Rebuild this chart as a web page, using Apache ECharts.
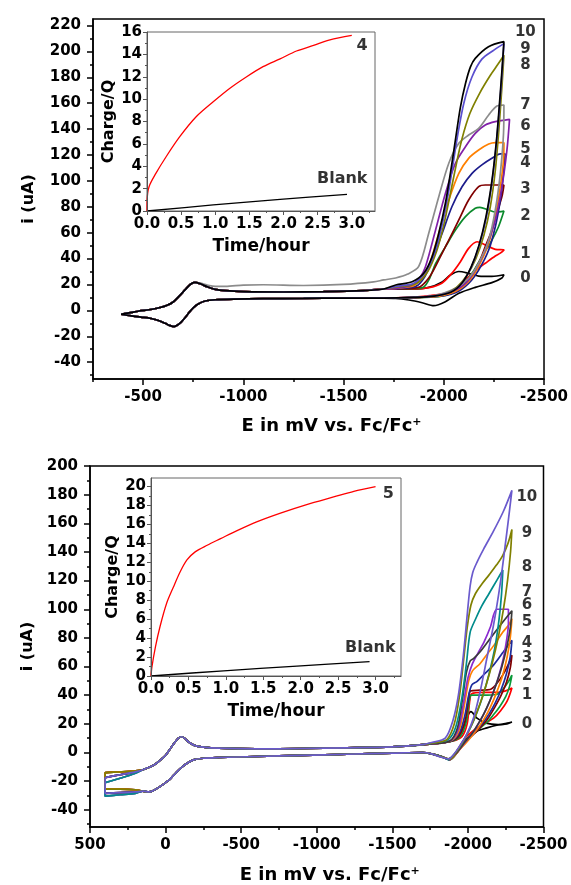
<!DOCTYPE html>
<html><head><meta charset="utf-8">
<script src="https://cdn.jsdelivr.net/npm/echarts@6/dist/echarts.min.js"></script>
<style>html,body{margin:0;padding:0;background:#fff}#c{width:571px;height:885px}</style>
</head><body><div id="c"></div>
<script>
const FONT = 'DejaVu Sans';

// ---------- TOP PANEL (compound 4) ----------
const topXTicks = [-500,-1000,-1500,-2000,-2500];
const topXMinor = [-250,-750,-1250,-1750,-2250];
const topYTicks = [-40,-20,0,20,40,60,80,100,120,140,160,180,200,220];
const topYMinor = [-50,-30,-10,10,30,50,70,90,110,130,150,170,190,210];
const topColors = ['#000000','#ff0000','#0b8a2c','#800000','#1c1c8c','#ff8000','#8020a8','#8c8c8c','#808000','#5a4fcf','#000000'];
const topLabelText = ['0','1','2','3','4','5','6','7','8','9','10'];
const topLabelV = [24.6,43.2,72.9,93.7,113.8,124.6,142.4,158.6,189.5,201.6,214.7];
const topLabelE = -2407;

const topUp = [[-390,-3],[-430,-2],[-480,-0.5],[-530,0.5],[-580,2],[-620,4],[-650,6.5],[-680,11],[-710,16],[-735,20],[-758,21.6],[-785,20.5],[-820,18.2],[-860,16.2],[-910,15.2],[-1000,14.5],[-1200,14.2],[-1400,14.5],[-1600,15.3],[-1700,16.5]];
const topUpGray = [[-390,-3],[-430,-2],[-480,-0.5],[-530,0.5],[-580,2],[-620,4],[-650,6.5],[-680,11],[-710,16],[-735,20],[-758,21.6],[-785,21],[-820,19.5],[-860,18.5],[-910,18.5],[-1000,19.5],[-1100,19.8],[-1300,19.2],[-1500,20],[-1650,22],[-1700,23.5]];
const topLow = [[-1700,9.5],[-1500,9.5],[-1300,9.2],[-1100,9],[-950,8.7],[-860,8.2],[-810,7.2],[-775,5],[-750,2],[-730,-1.5],[-710,-5.5],[-690,-9],[-670,-11.5],[-655,-12.5],[-635,-11.8],[-610,-10],[-580,-8],[-540,-6.3],[-490,-5.2],[-440,-4.2],[-390,-3]];

const topFwd = [
 [[-1760,16.8],[-1842,16.6],[-1925,17.8],[-1992,22],[-2033,27.3],[-2075,30],[-2124,28.6],[-2174,26.5],[-2240,26.2],[-2300,27.5]],
 [[-1760,16.5],[-1850,16.5],[-1925,17.5],[-1990,21],[-2040,28.6],[-2083,37.6],[-2124,47.9],[-2166,53],[-2207,50.5],[-2257,47.1],[-2300,46.6]],
 [[-1760,16.5],[-1860,17],[-1900,18],[-1930,25],[-1959,36],[-2008,49],[-2058,62],[-2108,72.4],[-2157,78.8],[-2180,79.6],[-2224,77.5],[-2257,76],[-2300,76.7]],
 [[-1760,16.5],[-1870,17.5],[-1925,25],[-1975,39],[-2025,54.3],[-2075,69.8],[-2124,85.2],[-2174,95.5],[-2207,96.8],[-2300,96.8]],
 [[-1760,16.8],[-1860,18.5],[-1905,26],[-1942,39],[-1992,59.6],[-2041,80.2],[-2091,95.5],[-2141,105.8],[-2190,112.3],[-2240,117.4],[-2282,120.8],[-2306,120.8]],
 [[-1760,17],[-1850,19],[-1890,25],[-1925,33.9],[-1975,59.6],[-2025,85.2],[-2075,105.8],[-2124,117.4],[-2174,123.8],[-2224,128.4],[-2257,129.5],[-2300,129.5]],
 [[-1760,17],[-1840,19.5],[-1880,25],[-1909,33.9],[-1959,62.1],[-2008,90.3],[-2058,113.6],[-2108,126.4],[-2157,136.7],[-2207,143.1],[-2257,145.7],[-2328,147.5]],
 [[-1760,25],[-1820,28],[-1875,33.9],[-1925,59.6],[-1975,87.8],[-2025,113.6],[-2075,129],[-2124,135.4],[-2174,140.6],[-2224,150.9],[-2265,157.8],[-2300,158.6]],
 [[-1760,18],[-1860,20.5],[-1920,30],[-1965,46],[-2000,66],[-2030,88],[-2060,111],[-2090,132],[-2130,152],[-2180,168],[-2230,181],[-2270,190],[-2300,197]],
 [[-1760,18.5],[-1850,21],[-1910,30],[-1955,45],[-1990,65],[-2020,88],[-2044,111],[-2070,136],[-2100,160],[-2140,180],[-2190,194],[-2250,201],[-2300,206]],
 [[-1760,19.6],[-1842,22.1],[-1900,28.6],[-1942,41.5],[-1975,59.5],[-2008,82.7],[-2033,106],[-2058,131.6],[-2083,157],[-2108,175],[-2133,188],[-2157,194.6],[-2223,203.6],[-2300,207.5]]
];
const topRev = [
 [[-2290,25],[-2240,21.4],[-2157,17.8],[-2075,13.2],[-2008,6.7],[-1950,3.6],[-1892,5.9],[-1826,8],[-1760,9.3]],
 [[-2280,44],[-2257,42],[-2207,36.4],[-2157,30.7],[-2108,23.5],[-2058,16.3],[-2008,13.2],[-1930,11.5],[-1820,10]],
 [[-2273,64.6],[-2240,54.3],[-2190,41.5],[-2141,28.6],[-2091,18.3],[-2041,13.2],[-1975,10.6],[-1850,9.8]],
 [[-2290,87.8],[-2265,75],[-2240,62.1],[-2207,49.2],[-2174,36.4],[-2124,23.5],[-2075,15.8],[-2008,11.9],[-1900,10.2]],
 [[-2298,105.8],[-2282,85.2],[-2257,64.6],[-2224,46.6],[-2174,31.2],[-2124,20.9],[-2058,13.7],[-1950,10.5]],
 [[-2298,116.1],[-2282,95.5],[-2257,72.4],[-2224,51.8],[-2174,33.9],[-2124,22.3],[-2058,14.6],[-1950,10.5]],
 [[-2315,123.8],[-2290,95.5],[-2257,69.8],[-2207,46.6],[-2157,31.2],[-2108,20.9],[-2041,14.6],[-1950,11]],
 [[-2298,136.7],[-2282,105.8],[-2257,77.5],[-2224,54.3],[-2174,36.4],[-2124,24.8],[-2058,17.1],[-1950,11.5]],
 [[-2290,172.6],[-2275,140],[-2257,108],[-2232,80],[-2200,58],[-2160,40],[-2115,27],[-2065,18],[-2010,13],[-1930,10.5],[-1850,10]],
 [[-2290,182],[-2277,155],[-2260,125],[-2238,96],[-2207,68],[-2170,47],[-2130,31],[-2085,20],[-2030,14],[-1950,11],[-1850,10]],
 [[-2290,185],[-2278,160],[-2262,130],[-2240,100],[-2210,72],[-2175,50],[-2135,33],[-2090,21],[-2035,14],[-1950,11],[-1850,10]]
];

// top inset
const insetTopTime = [0,0.002,0.03,0.13,0.28,0.48,0.72,0.97,1.21,1.46,1.70,1.95,2.19,2.44,2.68,3.0];
const insetTopQ    = [0,0.98,2.17,3.36,4.85,6.64,8.42,9.76,10.95,12.0,12.9,13.6,14.3,14.8,15.3,15.7];
const blankTopTime = [0,0.97,1.95,2.93];
const blankTopQ    = [0,0.54,1.04,1.49];
const insetXTicks = [0,0.5,1.0,1.5,2.0,2.5,3.0];
const insetXMinor = [0.25,0.75,1.25,1.75,2.25,2.75,3.25];
const insetTopYTicks = [0,2,4,6,8,10,12,14,16];
const insetTopYMinor = [1,3,5,7,9,11,13,15];

// ---------- BOTTOM PANEL (compound 5) ----------
const botXTicks = [500,0,-500,-1000,-1500,-2000,-2500];
const botXMinor = [250,-250,-750,-1250,-1750,-2250];
const botYTicks = [-40,-20,0,20,40,60,80,100,120,140,160,180,200];
const botYMinor = [-50,-30,-10,10,30,50,70,90,110,130,150,170,190];
const botColors = ['#000000','#ff0000','#0a9a3a','#800000','#1c2c9c','#ff8000','#8a2ad0','#3a3a3a','#008b8b','#808000','#6a5acd'];
const botLabelText = ['0','1','2','3','4','5','6','7','8','9','10'];
const botLabelV = [20.1,40.3,53,65.7,76.7,91.1,102.6,112.3,129.6,153.4,178.3];
const botLabelE = -2390;
const botVariant = [0,1,2,0,1,0,2,1,2,0,1];

const botUpLeft = [
 [[400,-14],[300,-13.5],[200,-12.8]],
 [[400,-17.5],[300,-15.5],[200,-13.5]],
 [[400,-21],[300,-18],[200,-14.5]]
];
const botLowLeft = [
 [[200,-26],[300,-25.5],[400,-25.5]],
 [[200,-27.5],[300,-28],[400,-28.5]],
 [[200,-28.5],[300,-29.5],[400,-30.5]]
];
const botUpMid = [[150,-12],[100,-10],[60,-7.5],[20,-4],[0,-2],[-30,2.5],[-60,7],[-85,10],[-105,11],[-125,10],[-150,7.5],[-190,5],[-250,3.8],[-350,3],[-600,2.5],[-900,2.8],[-1200,3.3],[-1500,4],[-1650,5],[-1700,5.5]];
const botLowMid = [[-1700,0],[-1500,-0.5],[-1200,-1.2],[-900,-2],[-600,-2.8],[-350,-3.5],[-250,-4],[-190,-5],[-150,-7],[-110,-10],[-70,-14],[-30,-18.5],[0,-21],[40,-24],[80,-26.5],[110,-27.5],[150,-27]];

const botFwd = [
 [[-1760,6],[-1850,7],[-1920,10],[-1970,18],[-2000,26],[-2020,28.5],[-2060,24],[-2120,20.5],[-2200,19.5],[-2260,20.5],[-2291,21.3]],
 [[-1760,6],[-1900,8],[-1960,11],[-1995,20],[-2012,36],[-2025,41],[-2100,42],[-2200,42],[-2250,43],[-2291,45]],
 [[-1760,6],[-1900,8],[-1955,12],[-1990,22],[-2010,37],[-2022,40],[-2100,40],[-2190,40.5],[-2230,44],[-2265,49],[-2291,54]],
 [[-1760,6],[-1895,8],[-1950,13],[-1985,24],[-2005,38],[-2018,43],[-2080,43.5],[-2147,44],[-2190,48],[-2230,54],[-2265,61],[-2291,68]],
 [[-1760,6],[-1890,8],[-1945,14],[-1980,26],[-2005,40],[-2026,47.2],[-2059,49.5],[-2103,54.1],[-2169,61],[-2235,70.3],[-2291,78.3]],
 [[-1760,6],[-1885,8],[-1940,15],[-1975,32],[-2005,50],[-2030,57],[-2080,62],[-2130,69],[-2180,76],[-2230,84],[-2270,89],[-2291,93.4]],
 [[-1760,6],[-1880,8],[-1935,16],[-1970,34],[-2000,52],[-2030,62],[-2070,70],[-2110,78],[-2150,88],[-2191,100],[-2268,100]],
 [[-1760,6],[-1880,8],[-1930,17],[-1962,36],[-1990,56],[-2015,64],[-2037,65.6],[-2081,70.3],[-2147,79.5],[-2213,88.7],[-2260,95],[-2291,99]],
 [[-1760,6.5],[-1870,9],[-1920,18],[-1960,38],[-1990,62],[-2015,84],[-2050,93],[-2090,102],[-2140,111],[-2190,120],[-2231,127.5]],
 [[-1760,6.5],[-1860,9],[-1910,20],[-1945,40],[-1972,65],[-1995,87],[-2020,103],[-2050,111],[-2095,118],[-2140,124],[-2190,131],[-2229,137.3],[-2265,146],[-2291,155.7]],
 [[-1760,7],[-1850,10],[-1900,22],[-1937,40],[-1970,68],[-1997,98],[-2015,116.4],[-2032,125.7],[-2059,132.6],[-2103,141.8],[-2169,154.5],[-2235,168.4],[-2291,183]]
];
const botRev = [
 [[-2258,19.9],[-2191,19],[-2125,17.2],[-2060,14.9],[-2000,10.2],[-1950,4],[-1905,-2],[-1870,-4.5],[-1820,-3],[-1760,-1]],
 [[-2260,36],[-2215,29],[-2170,24],[-2100,19.5],[-2040,15.5],[-1990,11],[-1950,5],[-1915,-1],[-1880,-5],[-1830,-3],[-1760,-1]],
 [[-2275,46],[-2250,39],[-2210,32],[-2170,26.5],[-2130,21.5],[-2080,17],[-2030,12.5],[-1985,8],[-1945,2.5],[-1910,-2.5],[-1880,-5],[-1830,-3],[-1760,-1]],
 [[-2280,59],[-2255,49],[-2220,40],[-2180,32],[-2140,25],[-2100,19.5],[-2060,15],[-2020,11],[-1980,6.5],[-1940,1.5],[-1905,-3],[-1878,-5],[-1830,-3],[-1760,-1]],
 [[-2280,67],[-2255,55],[-2220,44],[-2180,34.5],[-2140,27],[-2100,21],[-2060,16],[-2020,11.5],[-1980,7],[-1940,2],[-1905,-2.5],[-1875,-5],[-1830,-3],[-1760,-1]],
 [[-2280,80],[-2260,67],[-2230,54],[-2190,42],[-2150,32],[-2110,24],[-2070,17.5],[-2030,12],[-1990,7],[-1945,2],[-1910,-2.5],[-1880,-5],[-1830,-3],[-1760,-1]],
 [[-2268,90],[-2258,80],[-2235,66],[-2200,52],[-2160,40],[-2120,30],[-2080,22],[-2040,15],[-1995,9],[-1950,3],[-1910,-2],[-1880,-5],[-1830,-3],[-1760,-1]],
 [[-2282,88],[-2258,74],[-2225,60],[-2185,47],[-2145,36],[-2105,27],[-2065,19.5],[-2025,13],[-1985,8],[-1945,2.5],[-1905,-2.5],[-1875,-5],[-1830,-3],[-1760,-1]],
 [[-2222,110],[-2205,92],[-2178,73],[-2140,55],[-2100,40],[-2060,28],[-2020,18],[-1980,10],[-1940,3],[-1900,-2.5],[-1870,-5],[-1830,-3],[-1760,-1]],
 [[-2282,140],[-2262,120],[-2235,100],[-2200,80],[-2160,62],[-2120,47],[-2080,34],[-2040,23],[-2000,14],[-1960,6.5],[-1920,0],[-1885,-4.5],[-1840,-3.5],[-1760,-1]],
 [[-2268,162.6],[-2246,144],[-2224,125.7],[-2202,109.5],[-2169,88.7],[-2125,65.6],[-2081,42.6],[-2037,24],[-1992,12.6],[-1948,5],[-1905,-1.5],[-1875,-4.5],[-1830,-3.5],[-1760,-1]]
];

// bottom inset
const insetBotTime = [0,0.013,0.06,0.12,0.21,0.30,0.39,0.48,0.59,0.75,0.93,1.15,1.42,1.73,2.08,2.44,2.71,3.0];
const insetBotQ    = [0,0.99,3.1,5.2,7.7,9.4,11.0,12.25,13.1,13.8,14.5,15.35,16.3,17.2,18.1,18.9,19.5,20.0];
const blankBotTime = [0,0.97,1.95,2.92];
const blankBotQ    = [0,0.55,1.05,1.51];
const insetBotYTicks = [0,2,4,6,8,10,12,14,16,18,20];
const insetBotYMinor = [1,3,5,7,9,11,13,15,17,19];

// ---------- helpers ----------
function joinParts(parts){ const out=[]; parts.forEach(p=>p.forEach(q=>out.push(q))); out.push(parts[0][0]); return out; }
function zip(a,b){ return a.map((v,i)=>[v,b[i]]); }
function axisPair(o){
  const base = {type:'value', gridIndex:o.grid, position:o.pos, min:o.min, max:o.max, inverse:!!o.inverse, splitLine:{show:false}, z:5};
  const major = Object.assign({}, base, {
    axisLine:{show:true, onZero:false, lineStyle:{color:o.lc, width:o.lw}},
    axisTick:{show:true, inside:false, length:o.len, customValues:o.ticks, lineStyle:{color:o.lc, width:o.lw}},
    axisLabel:{show:true, customValues:o.ticks, margin:o.margin, formatter:o.fmt, color:'#000', fontFamily:FONT, fontWeight:'bold', fontSize:o.fs},
    name:o.name, nameLocation:'middle', nameGap:o.gap, nameTextStyle:o.nameStyle
  });
  const minor = Object.assign({}, base, {
    axisLine:{show:false, onZero:false}, axisLabel:{show:false},
    axisTick:{show:true, inside:false, length:o.mlen, customValues:o.minor, lineStyle:{color:o.lc, width:o.lw}}
  });
  return [major, minor];
}
const bold = (fs)=>({fontFamily:FONT, fontWeight:'bold', fontSize:fs, color:'#000'});
const eName = '{t|E in mV vs. Fc/Fc}{s|+}';
const eNameStyle = {padding:[0,0,0,26], rich:{t:bold(18), s:Object.assign(bold(11),{verticalAlign:'top'})}};
const intFmt = v=>String(v);
const decFmt = v=>v.toFixed(1);

const xAxis = [].concat(
  axisPair({grid:0,pos:'bottom',min:-2500,max:-250,inverse:true,ticks:topXTicks,minor:topXMinor,len:6,mlen:3,lc:'#000',lw:1.5,margin:11,fs:15,fmt:intFmt,name:eName,gap:38,nameStyle:eNameStyle}),
  axisPair({grid:1,pos:'bottom',min:0,max:3.34,ticks:insetXTicks,minor:insetXMinor,len:4,mlen:2,lc:'#555',lw:1,margin:6,fs:15,fmt:decFmt,name:'Time/hour',gap:27,nameStyle:bold(17)}),
  axisPair({grid:2,pos:'bottom',min:-2500,max:500,inverse:true,ticks:botXTicks,minor:botXMinor,len:6,mlen:3,lc:'#000',lw:1.5,margin:11,fs:15,fmt:intFmt,name:eName,gap:39,nameStyle:eNameStyle}),
  axisPair({grid:3,pos:'bottom',min:0,max:3.34,ticks:insetXTicks,minor:insetXMinor,len:4,mlen:2,lc:'#555',lw:1,margin:6,fs:15,fmt:decFmt,name:'Time/hour',gap:27,nameStyle:bold(17)})
);
const yAxis = [].concat(
  axisPair({grid:0,pos:'left',min:-53,max:225,ticks:topYTicks,minor:topYMinor,len:6,mlen:3,lc:'#000',lw:1.5,margin:12,fs:15,fmt:intFmt,name:'i (uA)',gap:56,nameStyle:bold(16)}),
  axisPair({grid:1,pos:'left',min:0,max:16,ticks:insetTopYTicks,minor:insetTopYMinor,len:4,mlen:2,lc:'#555',lw:1,margin:5,fs:15,fmt:intFmt,name:'Charge/Q',gap:30,nameStyle:bold(16)}),
  axisPair({grid:2,pos:'left',min:-52,max:200,ticks:botYTicks,minor:botYMinor,len:6,mlen:3,lc:'#000',lw:1.5,margin:12,fs:15,fmt:intFmt,name:'i (uA)',gap:54,nameStyle:bold(16)}),
  axisPair({grid:3,pos:'left',min:0,max:20.9,ticks:insetBotYTicks,minor:insetBotYMinor,len:4,mlen:2,lc:'#555',lw:1,margin:5,fs:15,fmt:intFmt,name:'Charge/Q',gap:30,nameStyle:bold(16)})
);

const series = [];
for (let i=0;i<11;i++){
  series.push({type:'line', xAxisIndex:0, yAxisIndex:0, showSymbol:false, smooth:0.3, animation:false,
    lineStyle:{color:topColors[i], width:1.7}, itemStyle:{color:topColors[i]},
    data: joinParts([i===7?topUpGray:topUp, topFwd[i], topRev[i], topLow])});
}
for (let i=0;i<11;i++){
  const v = botVariant[i];
  series.push({type:'line', xAxisIndex:4, yAxisIndex:4, showSymbol:false, smooth:0.3, animation:false,
    lineStyle:{color:botColors[i], width:1.7}, itemStyle:{color:botColors[i]},
    data: joinParts([botUpLeft[v], botUpMid, botFwd[i], botRev[i], botLowMid, botLowLeft[v]])});
}
function labelSeries(xi, yi, pts, fs){
  return {type:'scatter', xAxisIndex:xi, yAxisIndex:yi, symbolSize:0, animation:false, silent:true,
    label:{show:true, position:'inside', formatter:p=>p.data[2], fontFamily:FONT, fontWeight:'bold', fontSize:fs, color:'#000'},
    data:pts};
}
series.push(labelSeries(0,0, topLabelText.map((t,i)=>[topLabelE, topLabelV[i], t]), 15));
series.push(labelSeries(4,4, botLabelText.map((t,i)=>[botLabelE, botLabelV[i], t]), 15));
// insets
series.push({type:'line', xAxisIndex:2, yAxisIndex:2, showSymbol:false, smooth:0.3, animation:false, lineStyle:{color:'#ff0000',width:1.3}, data:zip(insetTopTime, insetTopQ)});
series.push({type:'line', xAxisIndex:2, yAxisIndex:2, showSymbol:false, smooth:0.3, animation:false, lineStyle:{color:'#000',width:1.3}, data:zip(blankTopTime, blankTopQ)});
series.push(labelSeries(2,2, [[3.15,14.8,'4'],[2.86,2.86,'Blank']], 16));
series.push({type:'line', xAxisIndex:6, yAxisIndex:6, showSymbol:false, smooth:0.3, animation:false, lineStyle:{color:'#ff0000',width:1.3}, data:zip(insetBotTime, insetBotQ)});
series.push({type:'line', xAxisIndex:6, yAxisIndex:6, showSymbol:false, smooth:0.3, animation:false, lineStyle:{color:'#000',width:1.3}, data:zip(blankBotTime, blankBotQ)});
series.push(labelSeries(6,6, [[3.17,19.2,'5'],[2.93,2.92,'Blank']], 16));

const chart = echarts.init(document.getElementById('c'), null, {renderer:'canvas'});
chart.setOption({
  animation:false,
  backgroundColor:'#fff',
  grid:[
    {left:93, top:19, width:452.5, height:360, show:true, borderColor:'#000', borderWidth:1.5, containLabel:false},
    {left:147, top:32, width:228, height:179, show:true, borderColor:'#666', borderWidth:1, backgroundColor:'#fff', containLabel:false},
    {left:90, top:466, width:453.5, height:361, show:true, borderColor:'#000', borderWidth:1.5, containLabel:false},
    {left:151, top:478, width:250, height:198, show:true, borderColor:'#666', borderWidth:1, backgroundColor:'#fff', containLabel:false}
  ],
  xAxis:xAxis, yAxis:yAxis, series:series
});
</script></body></html>
